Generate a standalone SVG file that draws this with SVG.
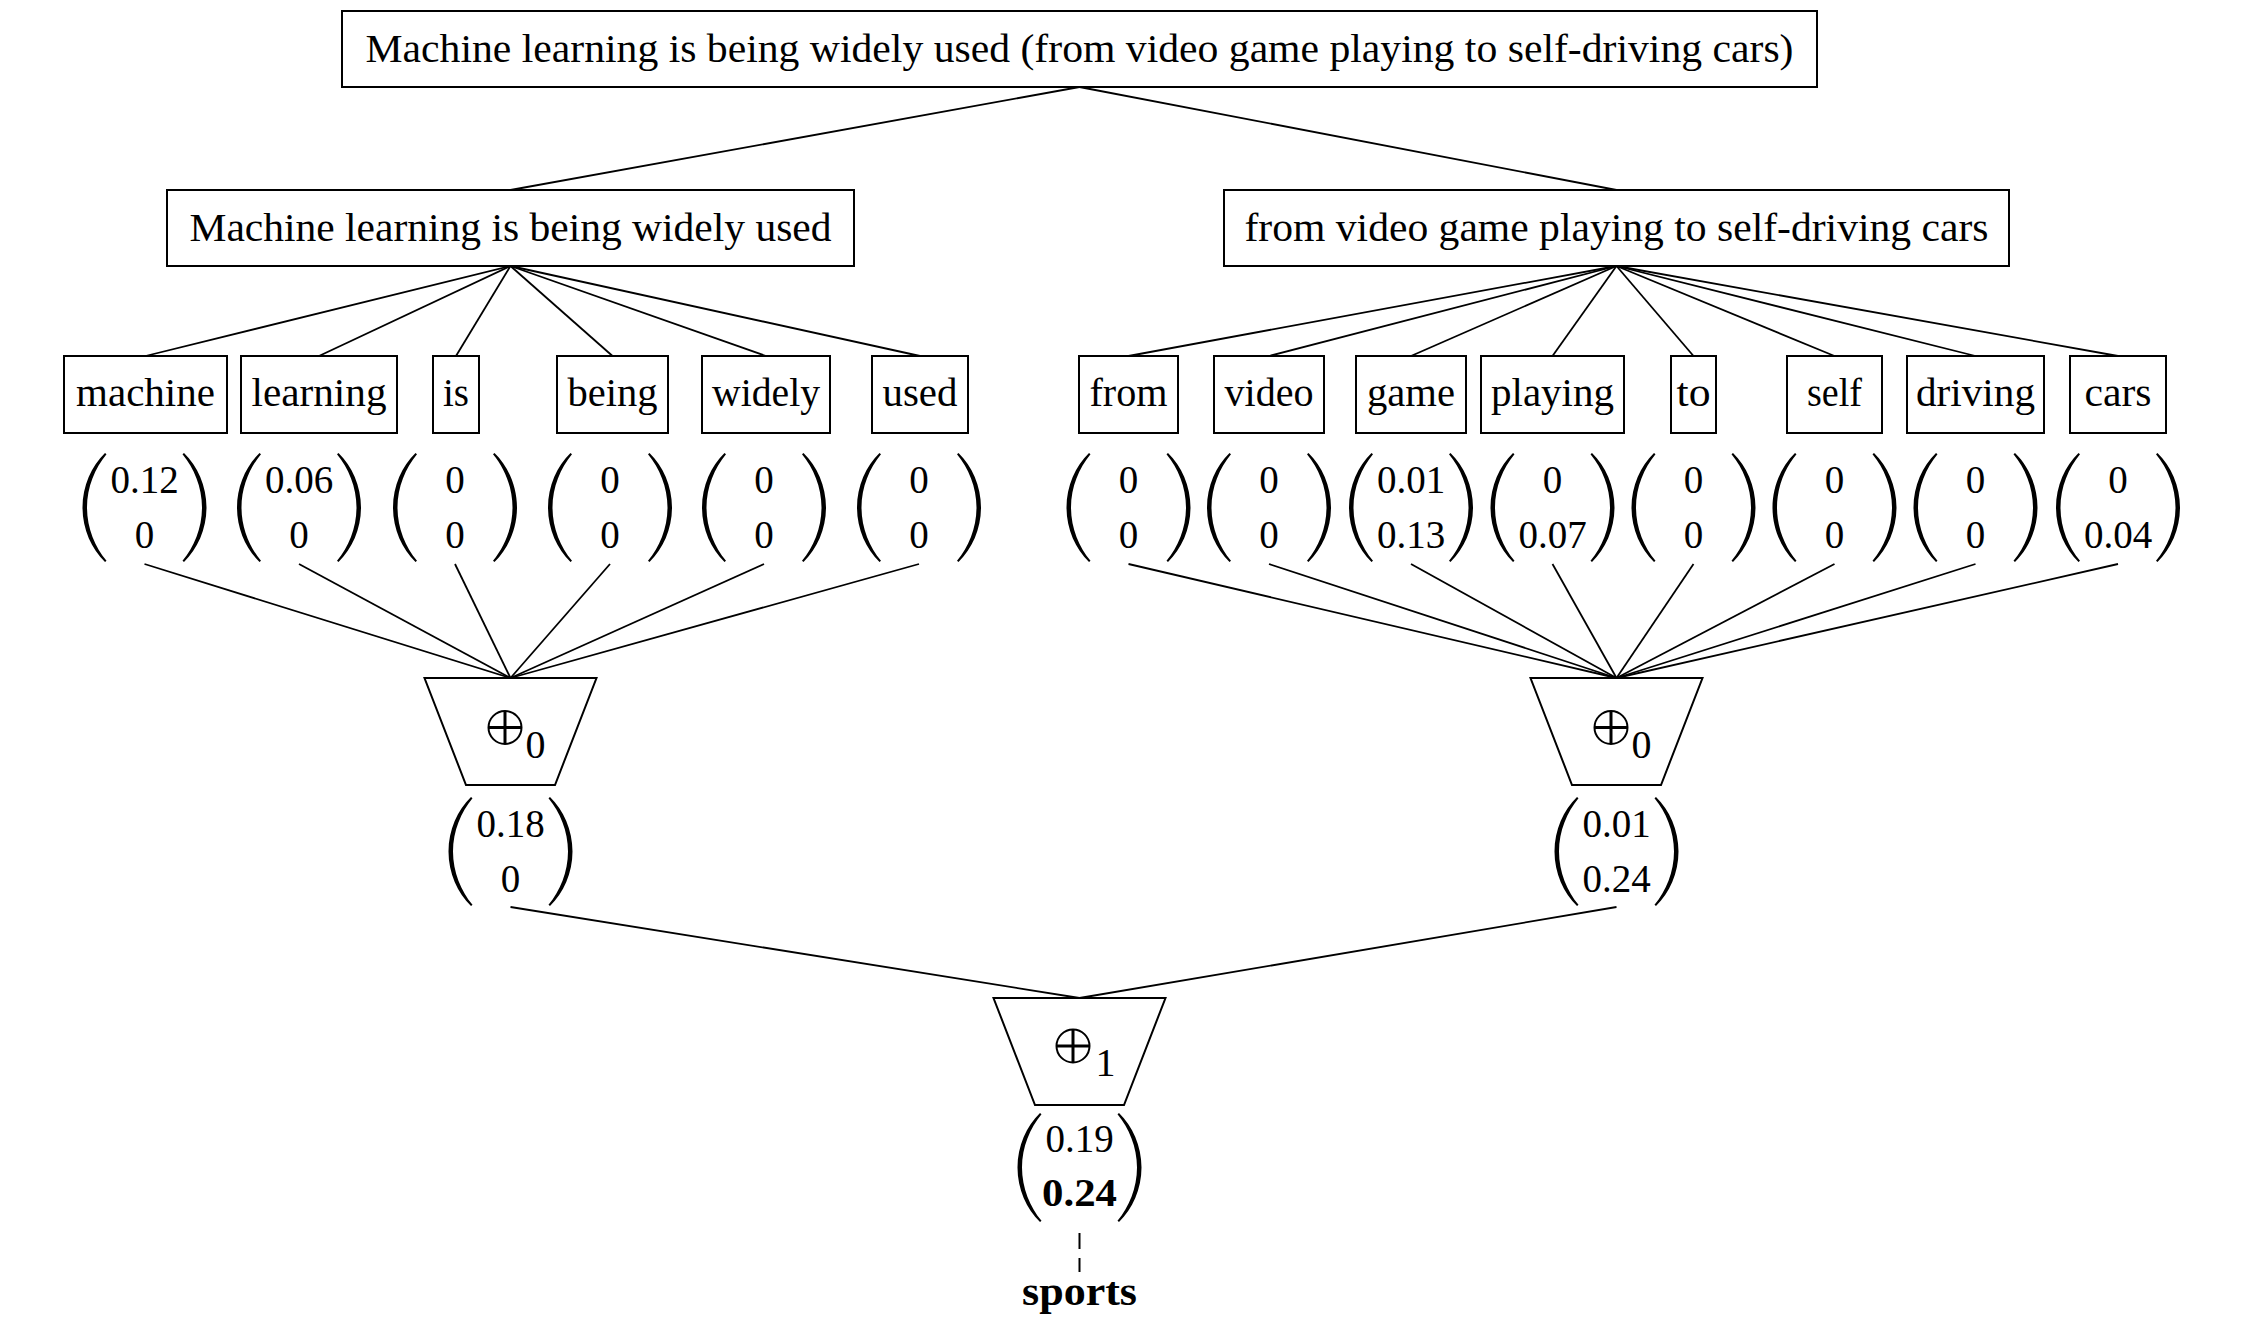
<svg xmlns="http://www.w3.org/2000/svg" width="2244" height="1326" viewBox="0 0 2244 1326">
<style>
.box{fill:#fff;stroke:#000;stroke-width:2}
.trap{fill:#fff;stroke:#000;stroke-width:2}
.t{font-family:"Liberation Serif","Times New Roman",serif;font-size:39px;fill:#000;text-anchor:middle}
.b{font-weight:bold}
.sub{font-family:"Liberation Serif","Times New Roman",serif;font-size:40px;fill:#000}
.edge{stroke:#000;stroke-width:1.8;fill:none}
.dash{stroke:#000;stroke-width:2;fill:none;stroke-dasharray:16 9}
.par{fill:#000;stroke:none}
.op{fill:none;stroke:#000;stroke-width:2}
.opp{stroke:#000;stroke-width:3}
</style>
<defs>
<path id="lp" class="par" d="M -39.5,0 C -53,13 -62,33 -62,54.5 C -62,76 -53,96 -39.5,109 L -38,107.8 C -49.5,94 -57.5,75 -57.5,54.5 C -57.5,34 -49.5,15 -38,1.2 Z"/>
<g id="vp"><use href="#lp"/><use href="#lp" transform="scale(-1,1)"/></g>
<g id="oplus"><circle class="op" cx="0" cy="0" r="16.5"/><line class="opp" x1="-16.5" y1="0" x2="16.5" y2="0"/><line class="opp" x1="0" y1="-16.5" x2="0" y2="16.5"/></g>
</defs>

<g id="connectors">
<line class="edge" x1="1079.5" y1="87" x2="510.5" y2="190"/>
<line class="edge" x1="1079.5" y1="87" x2="1616.5" y2="190"/>
<line class="edge" x1="510.5" y1="266" x2="145.5" y2="356"/>
<line class="edge" x1="510.5" y1="266" x2="319" y2="356"/>
<line class="edge" x1="510.5" y1="266" x2="456" y2="356"/>
<line class="edge" x1="510.5" y1="266" x2="612.5" y2="356"/>
<line class="edge" x1="510.5" y1="266" x2="766" y2="356"/>
<line class="edge" x1="510.5" y1="266" x2="920" y2="356"/>
<line class="edge" x1="1616.5" y1="266" x2="1128.5" y2="356"/>
<line class="edge" x1="1616.5" y1="266" x2="1269" y2="356"/>
<line class="edge" x1="1616.5" y1="266" x2="1411" y2="356"/>
<line class="edge" x1="1616.5" y1="266" x2="1552.5" y2="356"/>
<line class="edge" x1="1616.5" y1="266" x2="1693.5" y2="356"/>
<line class="edge" x1="1616.5" y1="266" x2="1834.5" y2="356"/>
<line class="edge" x1="1616.5" y1="266" x2="1975.5" y2="356"/>
<line class="edge" x1="1616.5" y1="266" x2="2118" y2="356"/>
<line class="edge" x1="144.5" y1="564" x2="510.5" y2="678"/>
<line class="edge" x1="299" y1="564" x2="510.5" y2="678"/>
<line class="edge" x1="455" y1="564" x2="510.5" y2="678"/>
<line class="edge" x1="610" y1="564" x2="510.5" y2="678"/>
<line class="edge" x1="764" y1="564" x2="510.5" y2="678"/>
<line class="edge" x1="919" y1="564" x2="510.5" y2="678"/>
<line class="edge" x1="1128.5" y1="564" x2="1616.5" y2="678"/>
<line class="edge" x1="1269" y1="564" x2="1616.5" y2="678"/>
<line class="edge" x1="1411" y1="564" x2="1616.5" y2="678"/>
<line class="edge" x1="1552.5" y1="564" x2="1616.5" y2="678"/>
<line class="edge" x1="1693.5" y1="564" x2="1616.5" y2="678"/>
<line class="edge" x1="1834.5" y1="564" x2="1616.5" y2="678"/>
<line class="edge" x1="1975.5" y1="564" x2="1616.5" y2="678"/>
<line class="edge" x1="2118" y1="564" x2="1616.5" y2="678"/>
<line class="edge" x1="510.5" y1="907" x2="1079.5" y2="998"/>
<line class="edge" x1="1616.5" y1="907" x2="1079.5" y2="998"/>
<line class="dash" x1="1079.5" y1="1233" x2="1079.5" y2="1272"/>
</g>

<g id="root"><rect class="box" x="342" y="11" width="1475" height="76"/><text class="t" x="1079.5" y="62" textLength="1428" lengthAdjust="spacingAndGlyphs">Machine learning is being widely used (from video game playing to self-driving cars)</text></g>
<g id="left-phrase"><rect class="box" x="167" y="190" width="687" height="76"/><text class="t" x="510.5" y="241" textLength="642" lengthAdjust="spacingAndGlyphs">Machine learning is being widely used</text></g>
<g id="right-phrase"><rect class="box" x="1224" y="190" width="785" height="76"/><text class="t" x="1616.5" y="241" textLength="744" lengthAdjust="spacingAndGlyphs">from video game playing to self-driving cars</text></g>

<g id="w-machine"><rect class="box" x="64" y="356" width="163" height="77"/><text class="t" x="145.5" y="406" textLength="139" lengthAdjust="spacingAndGlyphs">machine</text></g>
<g id="w-learning"><rect class="box" x="241" y="356" width="156" height="77"/><text class="t" x="319" y="406" textLength="135" lengthAdjust="spacingAndGlyphs">learning</text></g>
<g id="w-is"><rect class="box" x="433" y="356" width="46" height="77"/><text class="t" x="456" y="406" textLength="26" lengthAdjust="spacingAndGlyphs">is</text></g>
<g id="w-being"><rect class="box" x="557" y="356" width="111" height="77"/><text class="t" x="612.5" y="406" textLength="90" lengthAdjust="spacingAndGlyphs">being</text></g>
<g id="w-widely"><rect class="box" x="702" y="356" width="128" height="77"/><text class="t" x="766" y="406" textLength="108" lengthAdjust="spacingAndGlyphs">widely</text></g>
<g id="w-used"><rect class="box" x="872" y="356" width="96" height="77"/><text class="t" x="920" y="406" textLength="75" lengthAdjust="spacingAndGlyphs">used</text></g>
<g id="w-from"><rect class="box" x="1079" y="356" width="99" height="77"/><text class="t" x="1128.5" y="406" textLength="78" lengthAdjust="spacingAndGlyphs">from</text></g>
<g id="w-video"><rect class="box" x="1214" y="356" width="110" height="77"/><text class="t" x="1269" y="406" textLength="89" lengthAdjust="spacingAndGlyphs">video</text></g>
<g id="w-game"><rect class="box" x="1356" y="356" width="110" height="77"/><text class="t" x="1411" y="406" textLength="88" lengthAdjust="spacingAndGlyphs">game</text></g>
<g id="w-playing"><rect class="box" x="1481" y="356" width="143" height="77"/><text class="t" x="1552.5" y="406" textLength="123" lengthAdjust="spacingAndGlyphs">playing</text></g>
<g id="w-to"><rect class="box" x="1671" y="356" width="45" height="77"/><text class="t" x="1693.5" y="406" textLength="34" lengthAdjust="spacingAndGlyphs">to</text></g>
<g id="w-self"><rect class="box" x="1787" y="356" width="95" height="77"/><text class="t" x="1834.5" y="406" textLength="55" lengthAdjust="spacingAndGlyphs">self</text></g>
<g id="w-driving"><rect class="box" x="1907" y="356" width="137" height="77"/><text class="t" x="1975.5" y="406" textLength="119" lengthAdjust="spacingAndGlyphs">driving</text></g>
<g id="w-cars"><rect class="box" x="2070" y="356" width="96" height="77"/><text class="t" x="2118" y="406" textLength="67" lengthAdjust="spacingAndGlyphs">cars</text></g>

<g id="v-machine" transform="translate(144.5,453)"><use href="#vp"/><text class="t" x="0" y="40">0.12</text><text class="t" x="0" y="95">0</text></g>
<g id="v-learning" transform="translate(299,453)"><use href="#vp"/><text class="t" x="0" y="40">0.06</text><text class="t" x="0" y="95">0</text></g>
<g id="v-is" transform="translate(455,453)"><use href="#vp"/><text class="t" x="0" y="40">0</text><text class="t" x="0" y="95">0</text></g>
<g id="v-being" transform="translate(610,453)"><use href="#vp"/><text class="t" x="0" y="40">0</text><text class="t" x="0" y="95">0</text></g>
<g id="v-widely" transform="translate(764,453)"><use href="#vp"/><text class="t" x="0" y="40">0</text><text class="t" x="0" y="95">0</text></g>
<g id="v-used" transform="translate(919,453)"><use href="#vp"/><text class="t" x="0" y="40">0</text><text class="t" x="0" y="95">0</text></g>
<g id="v-from" transform="translate(1128.5,453)"><use href="#vp"/><text class="t" x="0" y="40">0</text><text class="t" x="0" y="95">0</text></g>
<g id="v-video" transform="translate(1269,453)"><use href="#vp"/><text class="t" x="0" y="40">0</text><text class="t" x="0" y="95">0</text></g>
<g id="v-game" transform="translate(1411,453)"><use href="#vp"/><text class="t" x="0" y="40">0.01</text><text class="t" x="0" y="95">0.13</text></g>
<g id="v-playing" transform="translate(1552.5,453)"><use href="#vp"/><text class="t" x="0" y="40">0</text><text class="t" x="0" y="95">0.07</text></g>
<g id="v-to" transform="translate(1693.5,453)"><use href="#vp"/><text class="t" x="0" y="40">0</text><text class="t" x="0" y="95">0</text></g>
<g id="v-self" transform="translate(1834.5,453)"><use href="#vp"/><text class="t" x="0" y="40">0</text><text class="t" x="0" y="95">0</text></g>
<g id="v-driving" transform="translate(1975.5,453)"><use href="#vp"/><text class="t" x="0" y="40">0</text><text class="t" x="0" y="95">0</text></g>
<g id="v-cars" transform="translate(2118,453)"><use href="#vp"/><text class="t" x="0" y="40">0</text><text class="t" x="0" y="95">0.04</text></g>

<g id="agg-left" transform="translate(510.5,678)"><polygon class="trap" points="-86,0 86,0 44.5,107 -44.5,107"/><use href="#oplus" x="-5.5" y="49.5"/><text class="sub" x="15" y="80">0</text></g>
<g id="agg-right" transform="translate(1616.5,678)"><polygon class="trap" points="-86,0 86,0 44.5,107 -44.5,107"/><use href="#oplus" x="-5.5" y="49.5"/><text class="sub" x="15" y="80">0</text></g>
<g id="out-left" transform="translate(510.5,797)"><use href="#vp"/><text class="t" x="0" y="40">0.18</text><text class="t" x="0" y="95">0</text></g>
<g id="out-right" transform="translate(1616.5,797)"><use href="#vp"/><text class="t" x="0" y="40">0.01</text><text class="t" x="0" y="95">0.24</text></g>

<g id="agg-final" transform="translate(1079.5,998)"><polygon class="trap" points="-86,0 86,0 44.5,107 -44.5,107"/><use href="#oplus" x="-6.5" y="48"/><text class="sub" x="16" y="78">1</text></g>
<g id="out-final" transform="translate(1079.5,1113)"><use href="#vp"/><text class="t" x="0" y="39">0.19</text><text class="t b" x="0" y="93" font-size="42" textLength="75" lengthAdjust="spacingAndGlyphs">0.24</text></g>
<g id="label-sports"><text class="t b" x="1079.5" y="1305" font-size="44" textLength="115" lengthAdjust="spacingAndGlyphs">sports</text></g>
</svg>
